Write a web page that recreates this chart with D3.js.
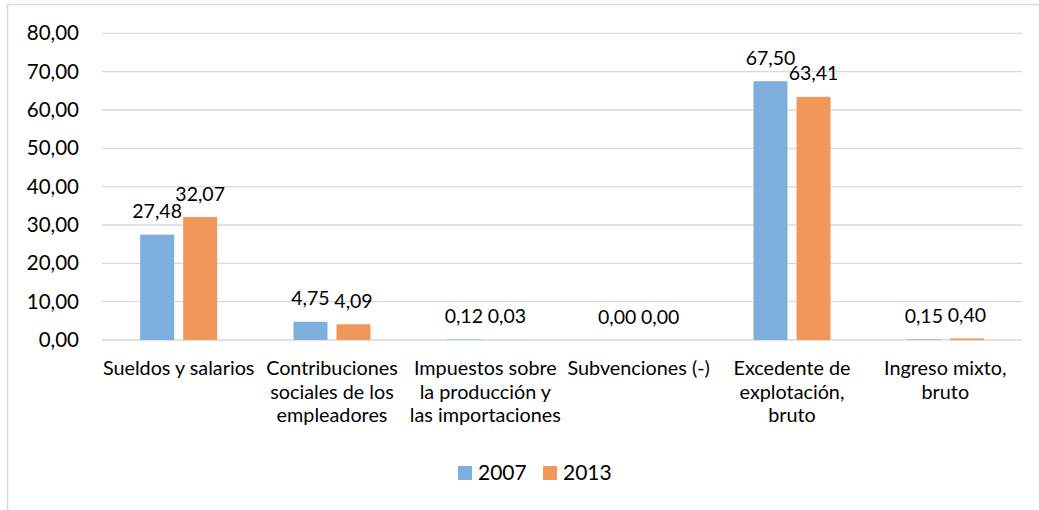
<!DOCTYPE html>
<html>
<head>
<meta charset="utf-8">
<script src="https://cdn.jsdelivr.net/npm/d3@7"></script>
<style>
  html, body { margin: 0; padding: 0; background: #fff; }
  svg text { font-family: Lato, "Open Sans", sans-serif; fill: #000; }
</style>
</head>
<body>
<svg id="chart" width="1039" height="510"></svg>
<script>
const categories = [
  "Sueldos y salarios",
  "Contribuciones\nsociales de los\nempleadores",
  "Impuestos sobre\nla producción y\nlas importaciones",
  "Subvenciones (-)",
  "Excedente de\nexplotación,\nbruto",
  "Ingreso mixto,\nbruto"
];
const seriesNames = ["2007", "2013"];
const values2007 = [27.48, 4.75, 0.12, 0.00, 67.50, 0.15];
const values2013 = [32.07, 4.09, 0.03, 0.00, 63.41, 0.40];
const yTicks = [0, 10, 20, 30, 40, 50, 60, 70, 80];
const colors = ["#7cafdd", "#f1975a"];

const seriesValues = [values2007, values2013];
const data = categories.map((c, i) => ({
  cat: c,
  vals: seriesNames.map((s, j) => ({ key: s, value: seriesValues[j][i] }))
}));

const fmt = v => v.toFixed(2).replace(".", ",");

const svg = d3.select("#chart");
const plot = { left: 102, right: 1022, top: 33.3, bottom: 340 };

// outer chart border (only top/left visible)
svg.append("rect")
  .attr("x", 7.5).attr("y", 4.5)
  .attr("width", 1200).attr("height", 700)
  .attr("fill", "none").attr("stroke", "#d9d9d9").attr("stroke-width", 1.5);

const x0 = d3.scaleBand().domain(categories).range([plot.left, plot.right]).padding(0);
const x1 = d3.scaleBand().domain(seriesNames).range([0, x0.bandwidth()])
  .paddingInner(0.209).paddingOuter(0.887);
const y = d3.scaleLinear().domain([0, 80]).range([plot.bottom, plot.top]);

// gridlines
svg.append("g").selectAll("line").data(yTicks).join("line")
  .attr("x1", plot.left).attr("x2", plot.right)
  .attr("y1", d => y(d)).attr("y2", d => y(d))
  .attr("stroke", "#d9d9d9").attr("stroke-width", 1.3);

// y axis labels
const yAxis = d3.axisLeft(y).tickValues(yTicks).tickFormat(fmt).tickSize(0).tickPadding(0);
const gy = svg.append("g").attr("transform", `translate(${79},0)`).call(yAxis);
gy.select(".domain").remove();
gy.selectAll("text").attr("font-size", 20.5).style("font-family", "Lato, sans-serif").attr("fill", "#000");

// bars
const groups = svg.append("g").selectAll("g").data(data).join("g")
  .attr("transform", d => `translate(${x0(d.cat)},0)`);
groups.selectAll("rect").data(d => d.vals).join("rect")
  .attr("x", d => x1(d.key))
  .attr("width", x1.bandwidth())
  .attr("y", d => y(d.value))
  .attr("height", d => y(0) - y(d.value))
  .attr("fill", (d, i) => colors[i]);

// data labels
groups.selectAll("text.lbl").data(d => d.vals).join("text")
  .attr("class", "lbl")
  .attr("x", d => x1(d.key) + x1.bandwidth() / 2)
  .attr("y", d => y(d.value) - 16.5)
  .attr("text-anchor", "middle")
  .attr("font-size", 19.5)
  .text(d => fmt(d.value));

// category labels
const xAxis = svg.append("g");
categories.forEach(c => {
  const lines = c.split("\n");
  const cx = x0(c) + x0.bandwidth() / 2;
  const t = xAxis.append("text")
    .attr("x", cx)
    .attr("y", 375)
    .attr("text-anchor", "middle")
    .attr("font-size", 19.8);
  lines.forEach((ln, k) => {
    t.append("tspan").attr("x", cx)
      .attr("dy", k === 0 ? 0 : 23.7).text(ln);
  });
});

// legend
const legend = svg.append("g");
const legendX = [458, 543];
seriesNames.forEach((s, i) => {
  legend.append("rect").attr("x", legendX[i]).attr("y", 466)
    .attr("width", 14).attr("height", 14).attr("fill", colors[i]);
  legend.append("text").attr("x", legendX[i] + 20).attr("y", 479.5)
    .attr("font-size", 21).text(s);
});
</script>
</body>
</html>
